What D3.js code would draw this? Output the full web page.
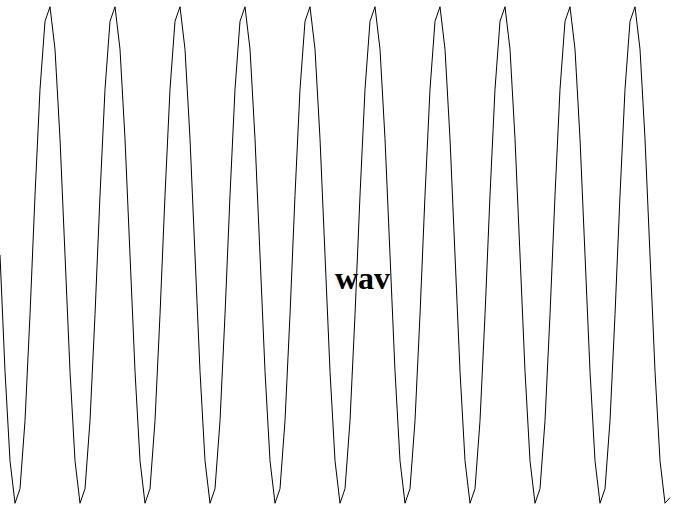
<!DOCTYPE html>
<html>
<head>
<meta charset="utf-8">
<script src="https://cdn.jsdelivr.net/npm/d3@7"></script>
<style>
  html, body { margin: 0; padding: 0; background: #fff; }
  svg { display: block; }
</style>
</head>
<body>
<script>
// Sample amplitudes of the waveform (positive = up)
const samples = [
  0, -0.465, -0.823, -0.993, -0.935, -0.663, -0.239, 0.239, 0.663, 0.935, 0.993, 0.823, 0.465,
  0, -0.465, -0.823, -0.993, -0.935, -0.663, -0.239, 0.239, 0.663, 0.935, 0.993, 0.823, 0.465,
  0, -0.465, -0.823, -0.993, -0.935, -0.663, -0.239, 0.239, 0.663, 0.935, 0.993, 0.823, 0.465,
  0, -0.465, -0.823, -0.993, -0.935, -0.663, -0.239, 0.239, 0.663, 0.935, 0.993, 0.823, 0.465,
  0, -0.465, -0.823, -0.993, -0.935, -0.663, -0.239, 0.239, 0.663, 0.935, 0.993, 0.823, 0.465,
  0, -0.465, -0.823, -0.993, -0.935, -0.663, -0.239, 0.239, 0.663, 0.935, 0.993, 0.823, 0.465,
  0, -0.465, -0.823, -0.993, -0.935, -0.663, -0.239, 0.239, 0.663, 0.935, 0.993, 0.823, 0.465,
  0, -0.465, -0.823, -0.993, -0.935, -0.663, -0.239, 0.239, 0.663, 0.935, 0.993, 0.823, 0.465,
  0, -0.465, -0.823, -0.993, -0.935, -0.663, -0.239, 0.239, 0.663, 0.935, 0.993, 0.823, 0.465,
  0, -0.465, -0.823, -0.993, -0.935, -0.663, -0.239, 0.239, 0.663, 0.935, 0.993, 0.823, 0.465,
  0, -0.465, -0.823, -0.993, -0.97
];
const label = "wav";

const W = 675, H = 510;
const svg = d3.select("body").append("svg").attr("width", W).attr("height", H);

const x = d3.scaleLinear().domain([0, samples.length - 1]).range([0, 670]);
const y = d3.scaleLinear().domain([-1, 1]).range([505, 5]);

const line = d3.line()
  .x((d, i) => x(i))
  .y(d => y(d));

svg.append("path")
  .datum(samples)
  .attr("d", line)
  .attr("fill", "none")
  .attr("stroke", "#000")
  .attr("stroke-width", 1);

svg.append("text")
  .attr("x", 335)
  .attr("y", 289)
  .attr("font-family", "'Liberation Serif', 'Times New Roman', serif")
  .attr("font-weight", "bold")
  .attr("font-size", 32)
  .attr("fill", "#000")
  .text(label);
</script>
</body>
</html>
